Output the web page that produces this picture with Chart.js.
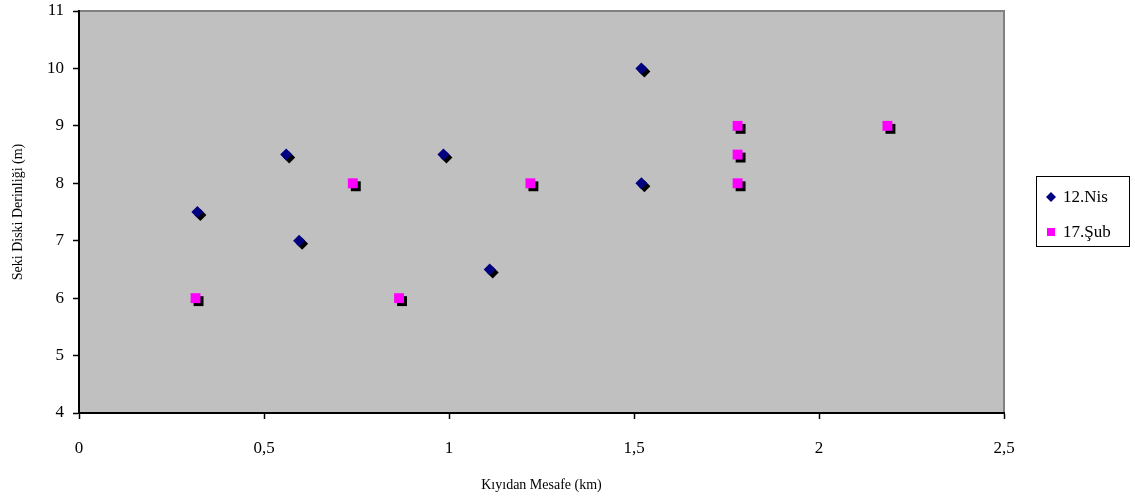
<!DOCTYPE html>
<html>
<head>
<meta charset="utf-8">
<script src="https://cdn.jsdelivr.net/npm/chart.js@4/dist/chart.umd.min.js"></script>
<style>
html,body{margin:0;padding:0;background:#fff;}
#wrap{width:1135px;height:499px;}
</style>
</head>
<body>
<div id="wrap"><canvas id="c" width="1135" height="499"></canvas></div>
<script>
const seriesNames = ['12.Nis', '17.Şub'];
const nisX = [0.32, 0.56, 0.595, 0.985, 1.11, 1.52, 1.52];
const nisY = [7.5, 8.5, 7, 8.5, 6.5, 10, 8];
const subX = [0.315, 0.74, 0.865, 1.22, 1.78, 1.78, 1.78, 2.185];
const subY = [6, 8, 6, 8, 9, 8.5, 8, 9];
const xTicks = [0, 0.5, 1, 1.5, 2, 2.5];
const yTicks = [4, 5, 6, 7, 8, 9, 10, 11];
const xTitle = 'Kıyıdan Mesafe (km)';
const yTitle = 'Seki Diski Derinliği (m)';

const FONT = "'Liberation Serif', 'Times New Roman', serif";

const toPts = (xs, ys) => xs.map((x, i) => ({x: x, y: ys[i]}));

const bgPlugin = {
  id: 'bg',
  beforeDraw(chart) {
    const {ctx, chartArea: a} = chart;
    ctx.save();
    ctx.fillStyle = '#fff';
    ctx.fillRect(0, 0, chart.width, chart.height);
    ctx.fillStyle = '#C0C0C0';
    ctx.fillRect(a.left, a.top, a.right - a.left, a.bottom - a.top);
    ctx.strokeStyle = '#808080';
    ctx.lineWidth = 2;
    ctx.beginPath();
    ctx.moveTo(a.left, a.top);
    ctx.lineTo(a.right, a.top);
    ctx.lineTo(a.right, a.bottom);
    ctx.stroke();
    ctx.restore();
  }
};

const shadowPlugin = {
  id: 'shadow',
  beforeDatasetDraw(chart) {
    const ctx = chart.ctx;
    ctx.save();
    ctx.shadowColor = '#000';
    ctx.shadowOffsetX = 3;
    ctx.shadowOffsetY = 3;
    ctx.shadowBlur = 0;
  },
  afterDatasetDraw(chart) {
    chart.ctx.restore();
  }
};

const legendPlugin = {
  id: 'boxLegend',
  afterDraw(chart) {
    const ctx = chart.ctx;
    const L = 1036, T = 176, R = 1129, B = 246;
    ctx.save();
    ctx.fillStyle = '#fff';
    ctx.fillRect(L, T, R - L, B - T);
    ctx.strokeStyle = '#000';
    ctx.lineWidth = 1;
    ctx.strokeRect(L + 0.5, T + 0.5, R - L, B - T);
    ctx.font = '17px ' + FONT;
    ctx.textBaseline = 'middle';
    ctx.fillStyle = '#000';
    const rows = [197, 232];
    chart.data.datasets.forEach((ds, i) => {
      const y = rows[i];
      const x = 1051;
      ctx.fillStyle = ds.backgroundColor;
      ctx.beginPath();
      if (ds.pointStyle === 'rectRot') {
        ctx.moveTo(x, y - 5);
        ctx.lineTo(x + 5, y);
        ctx.lineTo(x, y + 5);
        ctx.lineTo(x - 5, y);
        ctx.closePath();
      } else {
        ctx.rect(x - 4, y - 4, 8, 8);
      }
      ctx.fill();
      ctx.fillStyle = '#000';
      ctx.fillText(ds.label, 1063, y + 1);
    });
    ctx.restore();
  }
};

new Chart(document.getElementById('c'), {
  type: 'scatter',
  data: {
    datasets: [
      {label: seriesNames[0], data: toPts(nisX, nisY), pointStyle: 'rectRot', pointRadius: 6, pointHoverRadius: 6,
       backgroundColor: '#000080', borderColor: '#000080', borderWidth: 0},
      {label: seriesNames[1], data: toPts(subX, subY), pointStyle: 'rect', pointRadius: 7, pointHoverRadius: 7,
       backgroundColor: '#FF00FF', borderColor: '#FF00FF', borderWidth: 0}
    ]
  },
  options: {
    responsive: false,
    animation: false,
    events: [],
    layout: {padding: {left: 0, top: 11, right: 131, bottom: 0}},
    plugins: {legend: {display: false}, tooltip: {enabled: false}},
    scales: {
      x: {
        type: 'linear', min: 0, max: 2.5,
        afterBuildTicks(s) { s.ticks = xTicks.map(v => ({value: v})); },
        afterFit(s) { s.height = 86; s.paddingLeft = 0; s.paddingRight = 0; },
        grid: {drawOnChartArea: false, drawTicks: true, tickLength: 6, tickColor: '#000', tickWidth: 1.5},
        border: {display: true, color: '#000', width: 2},
        ticks: {color: '#000', font: {family: FONT, size: 17}, padding: 19, maxRotation: 0,
                callback: v => String(v).replace('.', ',')},
        title: {display: true, text: xTitle, color: '#000', font: {family: FONT, size: 14}, padding: {top: 0, bottom: 5}}
      },
      y: {
        type: 'linear', min: 4, max: 11,
        afterBuildTicks(s) { s.ticks = yTicks.map(v => ({value: v})); },
        afterFit(s) { s.width = 79; s.paddingTop = 0; s.paddingBottom = 0; },
        grid: {drawOnChartArea: false, drawTicks: true, tickLength: 6, tickColor: '#000', tickWidth: 1.5},
        border: {display: true, color: '#000', width: 2},
        ticks: {color: '#000', font: {family: FONT, size: 17}, padding: 9},
        title: {display: true, text: yTitle, color: '#000', font: {family: FONT, size: 14}, padding: {top: 10, bottom: 0}}
      }
    }
  },
  plugins: [bgPlugin, shadowPlugin, legendPlugin]
});
</script>
</body>
</html>
